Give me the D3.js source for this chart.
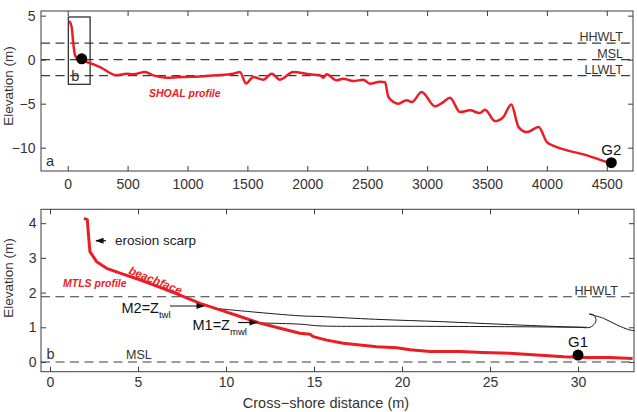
<!DOCTYPE html>
<html>
<head>
<meta charset="utf-8">
<script src="https://cdn.jsdelivr.net/npm/d3@7"></script>
<style>
  body { margin: 0; background: #fff; }
  svg text { font-family: "Liberation Sans", Arial, sans-serif; }
</style>
</head>
<body>
<svg id="chart" width="637" height="412"></svg>
<script>
// panel a: SHOAL profile (cross-shore distance m, elevation m)
const shoalX = [13, 33, 47, 61, 89, 158, 270, 409, 492, 548, 645, 715, 826, 965, 1104, 1243, 1382, 1438, 1488,
  1549, 1633, 1703, 1772, 1883, 2022, 2106, 2133, 2161, 2245, 2300, 2384, 2467, 2523, 2607, 2649, 2677, 2760,
  2830, 2872, 2955, 3066, 3136, 3191, 3275, 3358, 3441, 3483, 3567, 3636, 3703, 3764, 3833, 3931, 4000, 4083,
  4194, 4305, 4416, 4500];
const shoalY = [4.4, 3.7, 1.8, 0.5, 0, -0.27, -0.84, -1.78, -1.6, -1.67, -1.4, -1.78, -2.05, -1.97, -1.9, -1.78,
  -1.6, -1.4, -2.7, -1.97, -2.27, -1.6, -2.27, -1.4, -1.67, -1.78, -2.05, -1.67, -2.35, -2.16, -2.43, -2.27,
  -2.73, -2.5, -2.55, -4.25, -5.0, -4.6, -4.82, -3.68, -5.3, -4.82, -4.32, -5.95, -5.76, -6.07, -5.68, -6.98,
  -6.52, -5.08, -7.66, -8.23, -7.66, -9.36, -9.93, -10.39, -10.76, -11.25, -11.64];
const tideLevels = [{name: "HHWLT", z: 1.89}, {name: "MSL", z: 0}, {name: "LLWLT", z: -1.82}];
const topXTicks = [0, 500, 1000, 1500, 2000, 2500, 3000, 3500, 4000, 4500];
const topYTicks = [-10, -5, 0, 5];
const boxB = {x0: 5, x1: 187, y0: -2.8, y1: 4.85};
const gaugeG2 = {x: 4538, z: -11.7};
const shoreDot = {x: 117, z: 0.1};

// panel b: MTLS profile
const mtlsX = [1.93, 2.12, 2.18, 2.27, 2.65, 3.22, 3.98, 5.11, 6.25, 7.39, 8.52, 9.66, 10.8, 11.93, 13.07, 14.2,
  14.77, 14.96, 15.72, 16.67, 17.61, 18.56, 19.7, 20.45, 21.6, 23.3, 24.6, 26.1, 27.65, 29.2, 30.5, 31.8, 33.1];
const mtlsY = [4.14, 4.10, 3.71, 3.18, 2.89, 2.70, 2.56, 2.37, 2.15, 1.93, 1.69, 1.50, 1.31, 1.12, 0.97, 0.83,
  0.80, 0.73, 0.63, 0.54, 0.49, 0.44, 0.41, 0.35, 0.30, 0.30, 0.27, 0.25, 0.20, 0.15, 0.13, 0.13, 0.10];
// water surfaces: M2 (total water level) and M1 (mean water level) with the bore front
const m2X = [9.28, 11.36, 14.2, 15.34, 18.5, 22.35, 25.5, 27.84, 29.5, 30.5];
const m2Y = [1.55, 1.45, 1.33, 1.31, 1.23, 1.16, 1.09, 1.04, 1.01, 1.0];
const m1X = [11.36, 14.2, 15.34, 20, 25, 28, 30.0, 30.68, 30.97, 31.02, 30.87, 30.64, 31.44, 32.2, 32.95, 33.2];
const m1Y = [1.13, 1.09, 1.04, 1.03, 1.02, 1.01, 1.0, 1.0, 1.12, 1.23, 1.36, 1.38, 1.26, 1.07, 0.92, 0.9];
const botLevels = [{name: "HHWLT", z: 1.88}, {name: "MSL", z: 0}];
const botXTicks = [0, 5, 10, 15, 20, 25, 30];
const botYTicks = [0, 1, 2, 3, 4];
const gaugeG1 = {x: 30, z: 0.2};

const svg = d3.select("#chart");
const axisCol = "#3c3c3c", textCol = "#333", red = "#ec1c24";
const fmt = d3.format("d");

svg.append("defs").append("marker")
  .attr("id", "arr").attr("viewBox", "0 0 10 10").attr("refX", 9).attr("refY", 5)
  .attr("markerWidth", 7).attr("markerHeight", 7).attr("orient", "auto-start-reverse")
  .append("path").attr("d", "M0,1.5 L10,5 L0,8.5 Z").attr("fill", "#111");

function panel(p) {
  const g = svg.append("g");
  const x = d3.scaleLinear().domain(p.xDom).range([p.left, p.right]);
  const y = d3.scaleLinear().domain(p.yDom).range([p.bottom, p.top]);

  // axes (matlab-style, ticks pointing in, box all round)
  const ax = (axis, tr, labels) => {
    const a = g.append("g").attr("transform", tr).call(axis);
    a.select(".domain").remove();
    a.selectAll("line").attr("stroke", axisCol);
    a.selectAll("text").attr("fill", textCol).style("font-size", "14px");
    if (!labels) a.selectAll("text").remove();
    return a;
  };
  ax(d3.axisBottom(x).tickValues(p.xTicks).tickFormat(fmt).tickSizeInner(-5).tickSizeOuter(0).tickPadding(p.xPad),
     `translate(0,${p.bottom})`, true);
  ax(d3.axisTop(x).tickValues(p.xTicks).tickSizeInner(-5).tickSizeOuter(0), `translate(0,${p.top})`, false);
  ax(d3.axisLeft(y).tickValues(p.yTicks).tickFormat(fmt).tickSizeInner(-5).tickSizeOuter(0).tickPadding(p.yPad),
     `translate(${p.left},0)`, true);
  ax(d3.axisRight(y).tickValues(p.yTicks).tickSizeInner(-5).tickSizeOuter(0), `translate(${p.right},0)`, false);

  g.append("rect").attr("x", p.left).attr("y", p.top)
    .attr("width", p.right - p.left).attr("height", p.bottom - p.top)
    .attr("fill", "none").attr("stroke", axisCol).attr("stroke-width", 1);

  // tide level dashed lines
  g.selectAll(".lvl").data(p.levels).enter().append("line")
    .attr("x1", p.left).attr("x2", p.right)
    .attr("y1", d => y(d.z)).attr("y2", d => y(d.z))
    .attr("stroke", "#3a3a3a").attr("stroke-width", 1.2).attr("stroke-dasharray", "9,5.5");
  return {g, x, y};
}

// ---------- panel a ----------
const A = panel({xDom: [-223, 4719], yDom: [-12.65, 5.53], left: 41, right: 633, top: 11, bottom: 171,
  xTicks: topXTicks, yTicks: topYTicks, xPad: 8.5, yPad: 5.5, levels: tideLevels});

A.g.selectAll(".lvlText").data(tideLevels).enter().append("text")
  .attr("x", 623).attr("y", d => A.y(d.z) - 2)
  .attr("text-anchor", "end").style("font-size", "12.5px").attr("fill", textCol)
  .text(d => d.name);

A.g.append("rect")
  .attr("x", A.x(boxB.x0)).attr("y", A.y(boxB.y1))
  .attr("width", A.x(boxB.x1) - A.x(boxB.x0)).attr("height", A.y(boxB.y0) - A.y(boxB.y1))
  .attr("fill", "none").attr("stroke", "#222").attr("stroke-width", 1.2);
A.g.append("text").attr("x", A.x(boxB.x0) + 3).attr("y", A.y(boxB.y0) - 3)
  .style("font-size", "14.5px").attr("fill", textCol).text("b");

A.g.append("path").datum(d3.zip(shoalX, shoalY))
  .attr("d", d3.line().x(d => A.x(d[0])).y(d => A.y(d[1])).curve(d3.curveMonotoneX))
  .attr("fill", "none").attr("stroke", red).attr("stroke-width", 2.5).attr("stroke-linejoin", "round");

A.g.append("circle").attr("cx", A.x(shoreDot.x)).attr("cy", A.y(shoreDot.z)).attr("r", 5.5).attr("fill", "#000");
A.g.append("circle").attr("cx", A.x(gaugeG2.x)).attr("cy", A.y(gaugeG2.z)).attr("r", 5.5).attr("fill", "#000");
A.g.append("text").attr("x", A.x(gaugeG2.x)).attr("y", 155).attr("text-anchor", "middle")
  .style("font-size", "15px").attr("fill", "#111").text("G2");

A.g.append("text").attr("x", 149).attr("y", 96.5).style("font-size", "10.5px")
  .style("font-weight", "bold").style("font-style", "italic").attr("fill", red).text("SHOAL profile");
A.g.append("text").attr("x", 46).attr("y", 166).style("font-size", "14.5px").attr("fill", textCol).text("a");

svg.append("text").attr("transform", "translate(12.5,86) rotate(-90)").attr("text-anchor", "middle")
  .style("font-size", "13.5px").attr("fill", textCol).text("Elevation (m)");

// ---------- panel b ----------
const B = panel({xDom: [-0.51, 33.18], yDom: [-0.28, 4.4], left: 41, right: 634, top: 209.3, bottom: 371.7,
  xTicks: botXTicks, yTicks: botYTicks, xPad: 5, yPad: 4.5, levels: botLevels});

B.g.append("text").attr("x", 618).attr("y", B.y(botLevels[0].z) - 2).attr("text-anchor", "end")
  .style("font-size", "12.5px").attr("fill", textCol).text("HHWLT");
B.g.append("text").attr("x", 126).attr("y", B.y(0) - 3)
  .style("font-size", "12.5px").attr("fill", textCol).text("MSL");
B.g.append("text").attr("x", 46.5).attr("y", 359).style("font-size", "14.5px").attr("fill", textCol).text("b");

const wline = d3.line().x(d => B.x(d[0])).y(d => B.y(d[1])).curve(d3.curveCatmullRom.alpha(0.5));
B.g.append("path").datum(d3.zip(m2X, m2Y)).attr("d", wline)
  .attr("fill", "none").attr("stroke", "#1a1a1a").attr("stroke-width", 1);
B.g.append("path").datum(d3.zip(m1X, m1Y)).attr("d", wline)
  .attr("fill", "none").attr("stroke", "#1a1a1a").attr("stroke-width", 1);

B.g.append("path").datum(d3.zip(mtlsX, mtlsY))
  .attr("d", d3.line().x(d => B.x(d[0])).y(d => B.y(d[1])))
  .attr("fill", "none").attr("stroke", red).attr("stroke-width", 3).attr("stroke-linejoin", "round");

B.g.append("circle").attr("cx", B.x(gaugeG1.x)).attr("cy", B.y(gaugeG1.z)).attr("r", 5.5).attr("fill", "#000");
B.g.append("text").attr("x", B.x(gaugeG1.x)).attr("y", 347).attr("text-anchor", "middle")
  .style("font-size", "15px").attr("fill", "#111").text("G1");

// annotations
const arrow = (x1, x2, yy) => B.g.append("line").attr("x1", x1).attr("x2", x2).attr("y1", yy).attr("y2", yy)
  .attr("stroke", "#111").attr("stroke-width", 1.2).attr("marker-end", "url(#arr)");
arrow(106, 96, 240.7);
B.g.append("text").attr("x", 115).attr("y", 244.5).style("font-size", "13.5px").attr("fill", "#222").text("erosion scarp");

arrow(170, 204, 306);
const t2 = B.g.append("text").attr("x", 121.5).attr("y", 312.5).style("font-size", "14.5px").attr("fill", "#111");
t2.append("tspan").text("M2=Z");
t2.append("tspan").attr("dy", 5).style("font-size", "9.5px").text("twl");

arrow(238, 257, 322.5);
const t1 = B.g.append("text").attr("x", 192.5).attr("y", 330).style("font-size", "14.5px").attr("fill", "#111");
t1.append("tspan").text("M1=Z");
t1.append("tspan").attr("dy", 5).style("font-size", "9.5px").text("mwl");

B.g.append("text").attr("x", 63).attr("y", 286.5).style("font-size", "10.5px")
  .style("font-weight", "bold").style("font-style", "italic").attr("fill", red).text("MTLS profile");
B.g.append("text").attr("transform", "translate(154,284) rotate(22)").attr("text-anchor", "middle")
  .style("font-size", "11.5px").style("font-weight", "bold").style("font-style", "italic")
  .attr("fill", red).text("beachface");

svg.append("text").attr("transform", "translate(12.5,278) rotate(-90)").attr("text-anchor", "middle")
  .style("font-size", "13.5px").attr("fill", textCol).text("Elevation (m)");
svg.append("text").attr("x", 326).attr("y", 408).attr("text-anchor", "middle")
  .style("font-size", "14.5px").attr("fill", textCol).text("Cross\u2212shore distance (m)");
</script>
</body>
</html>
